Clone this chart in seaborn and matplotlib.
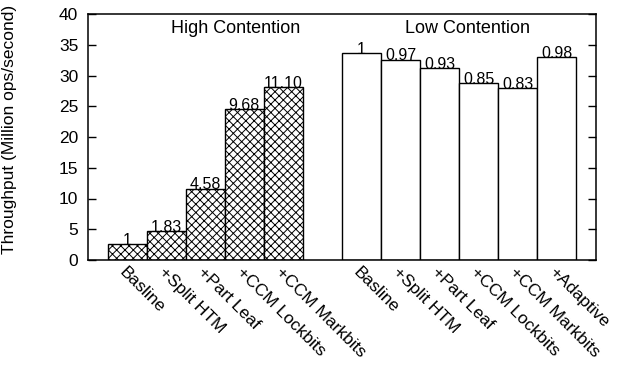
import matplotlib
matplotlib.use("Agg")
import matplotlib.pyplot as plt
import matplotlib.transforms as mtransforms
import seaborn as sns
import pandas as pd

# ---- data ----
high_categories = ["Basline", "+Split HTM", "+Part Leaf", "+CCM Lockbits", "+CCM Markbits"]
high_values = [2.54, 4.65, 11.6, 24.5, 28.1]
high_labels = ["1", "1.83", "4.58", "9.68", "11.10"]

low_categories = ["Basline", "+Split HTM", "+Part Leaf", "+CCM Lockbits", "+CCM Markbits", "+Adaptive"]
low_values = [33.6, 32.6, 31.2, 28.7, 27.9, 33.0]
low_labels = ["1", "0.97", "0.93", "0.85", "0.83", "0.98"]

group_names = ["High Contention", "Low Contention"]
y_ticks = [0, 5, 10, 15, 20, 25, 30, 35, 40]
y_label = "Throughput (Million ops/second)"

# ---- table ----
high_keys = ["H:" + c for c in high_categories]
low_keys = ["L:" + c for c in low_categories]
df = pd.DataFrame({
    "key": high_keys + low_keys,
    "value": high_values + low_values,
    "group": [group_names[0]] * len(high_keys) + [group_names[1]] * len(low_keys),
})
order = high_keys + ["gap"] + low_keys
tick_text = high_categories + [""] + low_categories

sns.set_theme(style="ticks")
plt.rcParams["font.family"] = ["Liberation Sans", "DejaVu Sans"]
plt.rcParams["hatch.linewidth"] = 0.7
plt.rcParams["hatch.color"] = "black"
plt.rcParams["text.color"] = "black"
plt.rcParams["axes.labelcolor"] = "black"
plt.rcParams["xtick.color"] = "black"
plt.rcParams["ytick.color"] = "black"

fig = plt.figure(figsize=(6.27, 3.75), dpi=100)
ax = fig.add_axes([88 / 627, (375 - 260) / 375, 508 / 627, 246 / 375])

sns.barplot(data=df, x="key", y="value", hue="group", order=order,
            hue_order=group_names, palette={group_names[0]: "white", group_names[1]: "white"},
            width=1.0, dodge=False, edgecolor="black", linewidth=1.0,
            legend=False, ax=ax, errorbar=None)

for p in ax.containers[0]:
    p.set_hatch("xxxx")

ax.bar_label(ax.containers[0], labels=high_labels, padding=-2.5, fontsize=11.5, color="black")
ax.bar_label(ax.containers[1], labels=low_labels, padding=-2.5, fontsize=11.5, color="black")

ax.set_xlim(-1, 12)
ax.set_ylim(0, 40)
ax.set_yticks(y_ticks)
ax.set_xticks(range(len(order)))
ax.set_xticklabels(tick_text, rotation=-45, ha="left", va="top",
                   rotation_mode="anchor", fontsize=12.5, color="black")
offset = mtransforms.ScaledTranslation(3 / 100, -2 / 100, fig.dpi_scale_trans)
for lab in ax.get_xticklabels():
    lab.set_transform(lab.get_transform() + offset)
ax.tick_params(axis="x", length=0, pad=3)
ax.tick_params(axis="y", direction="in", length=6, width=1.0, labelsize=12.5,
               pad=7, right=True, left=True, color="black", labelcolor="black")
ax.set_xlabel("")
ax.set_ylabel(y_label, fontsize=12.5, color="black")
ax.yaxis.set_label_coords(-0.14, 0.53)

for s in ax.spines.values():
    s.set_visible(True)
    s.set_linewidth(1.1)
    s.set_color("black")

ax.text(0.29, 0.923, group_names[0], transform=ax.transAxes, ha="center",
        va="baseline", fontsize=13, color="black")
ax.text(0.747, 0.923, group_names[1], transform=ax.transAxes, ha="center",
        va="baseline", fontsize=13, color="black")

fig.savefig("out.png", dpi=100)
